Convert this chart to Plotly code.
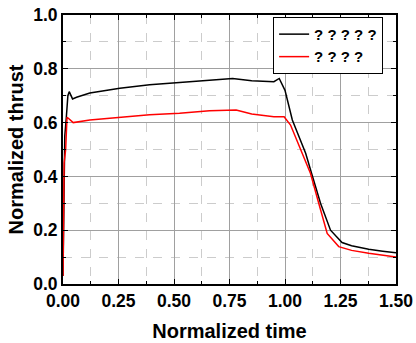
import plotly.graph_objects as go

t_black = [0.0, 0.008, 0.015, 0.022, 0.028, 0.043, 0.061, 0.121, 0.256, 0.39, 0.525, 0.66, 0.764,
           0.85, 0.95, 0.974, 1.0, 1.033, 1.093, 1.122, 1.16, 1.205, 1.257, 1.3, 1.377, 1.44, 1.5]
v_black = [0.03, 0.55, 0.62, 0.70, 0.715, 0.688, 0.694, 0.710, 0.728, 0.741, 0.749, 0.759, 0.764,
           0.756, 0.752, 0.764, 0.72, 0.61, 0.486, 0.405, 0.30, 0.20, 0.154, 0.142, 0.129, 0.122, 0.116]

t_red = [0.0, 0.005, 0.012, 0.018, 0.024, 0.046, 0.121, 0.256, 0.39, 0.525, 0.66, 0.78,
         0.85, 0.95, 0.996, 1.025, 1.07, 1.115, 1.152, 1.19, 1.242, 1.3, 1.377, 1.44, 1.5]
v_red = [0.03, 0.45, 0.50, 0.62, 0.616, 0.60, 0.61, 0.619, 0.629, 0.635, 0.644, 0.647,
         0.632, 0.622, 0.622, 0.591, 0.498, 0.411, 0.30, 0.188, 0.139, 0.125, 0.114, 0.107, 0.10]

names = ["? ? ? ? ?", "? ? ? ?"]

fig = go.Figure()
fig.add_trace(go.Scatter(x=t_black, y=v_black, mode="lines", name=names[0],
                         line=dict(color="black", width=1.5)))
fig.add_trace(go.Scatter(x=t_red, y=v_red, mode="lines", name=names[1],
                         line=dict(color="red", width=1.5)))

font = dict(family="Liberation Sans, Arial, sans-serif", color="black")

axis_common = dict(
    showline=True, linecolor="black", linewidth=2, mirror="ticks",
    ticks="inside", ticklen=5, tickwidth=1, tickcolor="black",
    showgrid=True, gridcolor="#a0a0a0", gridwidth=1,
    zeroline=False, automargin=False,
    tickfont=dict(size=17.5, **font),
)

fig.update_layout(
    width=416, height=343,
    margin=dict(l=63, r=20, t=15, b=59),
    paper_bgcolor="white", plot_bgcolor="white",
    font=font,
    xaxis=dict(range=[0, 1.5], dtick=0.25, tickformat=".2f",
               minor=dict(dtick=0.125, showgrid=True, griddash="dash", gridcolor="#cccccc",
                          ticks="inside", ticklen=3, tickcolor="black"),
               title=dict(text="<b>Normalized time</b>", font=dict(size=20, **font), standoff=14),
               **axis_common),
    yaxis=dict(range=[0, 1.0], dtick=0.2, tickformat=".1f",
               minor=dict(dtick=0.1, showgrid=True, griddash="dash", gridcolor="#cccccc",
                          ticks="inside", ticklen=3, tickcolor="black"),
               title=dict(text="<b>Normalized thrust</b>", font=dict(size=20, **font), standoff=4),
               **axis_common),
    legend=dict(x=0.631, y=0.993, xanchor="left", yanchor="top",
                bgcolor="white", bordercolor="black", borderwidth=1,
                font=dict(size=15, **font), tracegroupgap=0),
)
fig.update_xaxes(tickprefix="<b>", ticksuffix="</b>")
fig.update_yaxes(tickprefix="<b>", ticksuffix="</b>")
fig.for_each_trace(lambda tr: tr.update(name="<b>" + tr.name + "</b>"))

fig.write_html("out.html", config={"displayModeBar": False})
# remove the default body margin so the figure sits at the window's top-left corner
with open("out.html", encoding="utf-8") as f:
    html = f.read()
html = html.replace("<body>", '<body style="margin:0;padding:0;">', 1)
html = html.replace("<head>", "<head><style>html,body{margin:0;padding:0;}</style>", 1)
with open("out.html", "w", encoding="utf-8") as f:
    f.write(html)
